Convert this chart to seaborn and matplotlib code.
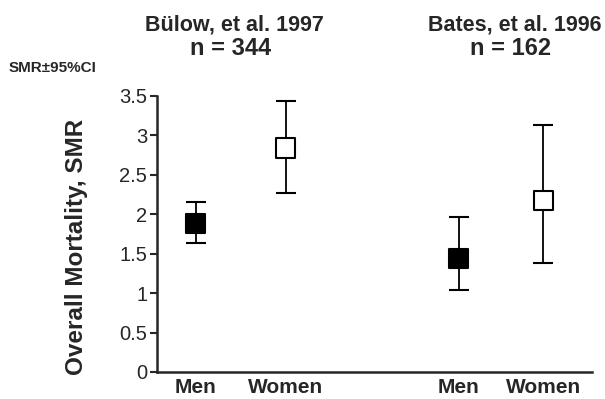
import numpy as np
import pandas as pd
import matplotlib
matplotlib.use("Agg")
import matplotlib.pyplot as plt
import seaborn as sns

# Data
studies = ["Bülow, et al. 1997", "Bates, et al. 1996"]
study_n = ["n = 344", "n = 162"]
sexes = ["Men", "Women"]
smr = [1.88, 2.84, 1.44, 2.17]
ci_low = [1.63, 2.27, 1.04, 1.38]
ci_high = [2.16, 3.44, 1.97, 3.13]
y_ticks = [0, 0.5, 1, 1.5, 2, 2.5, 3, 3.5]
y_tick_labels = ["0", "0.5", "1", "1.5", "2", "2.5", "3", "3.5"]

sns.set_style("ticks")
plt.rcParams["font.family"] = ["Liberation Sans", "DejaVu Sans"]

df = pd.DataFrame({
    "study": np.repeat(studies, 2),
    "sex": sexes * 2,
    "smr": smr,
    "low": ci_low,
    "high": ci_high,
})
# layout: groups of two, with a wider gap between studies
study_idx = np.repeat(np.arange(len(studies)), 2)
sex_idx = np.tile(np.arange(len(sexes)), len(studies))
df["x"] = study_idx * 2.92 + sex_idx * (1.0 - 0.06 * study_idx)

fig = plt.figure(figsize=(6.05, 3.99), dpi=100)
ax = fig.add_axes([0.2595, 0.0677, 0.719, 0.6917])

ax.errorbar(df["x"], df["smr"],
            yerr=[df["smr"] - df["low"], df["high"] - df["smr"]],
            fmt="none", ecolor="black", elinewidth=1.3, capsize=7.5,
            capthick=1.5, zorder=1)
sns.scatterplot(data=df, x="x", y="smr", hue="sex",
                palette={"Men": "black", "Women": "white"},
                marker="s", s=190, edgecolor="black", linewidth=1.5,
                legend=False, zorder=3, ax=ax)

ax.set_xlim(-0.43, 4.4)
ax.set_ylim(0, 3.5)
ax.set_yticks(y_ticks)
ax.set_yticklabels(y_tick_labels, fontsize=14.5)
ax.set_xticks(df["x"])
ax.set_xticklabels(df["sex"], fontsize=15, fontweight="bold")
ax.tick_params(axis="x", length=0, pad=4)
ax.tick_params(axis="y", length=5, width=1.5, pad=2)
ax.set_xlabel("")
ax.set_ylabel("Overall Mortality, SMR", fontsize=17.5, fontweight="bold",
              va="center")
ax.yaxis.set_label_coords(-0.184, 0.453)
sns.despine(ax=ax)
for side in ["left", "bottom"]:
    ax.spines[side].set_linewidth(1.8)

# study headers above each pair (offsets in pixels)
header_shift = [-6, 14]
for i, (name, n) in enumerate(zip(studies, study_n)):
    cx = df.loc[study_idx == i, "x"].mean()
    ax.annotate(name, xy=(cx, 1), xycoords=("data", "axes fraction"),
                xytext=(header_shift[i], 71), textcoords="offset pixels",
                ha="center", va="center", fontsize=15.5, fontweight="bold")
    ax.annotate(n, xy=(cx, 1), xycoords=("data", "axes fraction"),
                xytext=(header_shift[i] - 4, 47), textcoords="offset pixels",
                ha="center", va="center", fontsize=17, fontweight="bold")

fig.text(0.015, 0.83, "SMR±95%CI", fontsize=11, fontweight="bold",
         ha="left", va="center")

fig.savefig("out.png", dpi=100)
